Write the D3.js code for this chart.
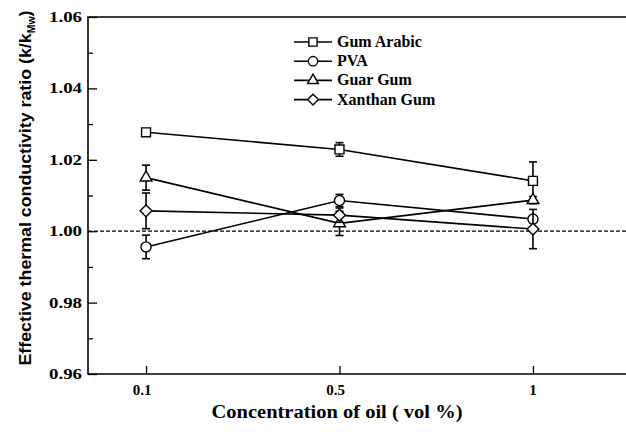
<!DOCTYPE html>
<html>
<head>
<meta charset="utf-8">
<script src="https://cdn.jsdelivr.net/npm/d3@7"></script>
<style>
  body { margin: 0; background: #fff; }
  svg { display: block; }
</style>
</head>
<body>
<script>
// data
var concentrations = ["0.1", "0.5", "1"];
var seriesNames = ["Gum Arabic", "PVA", "Guar Gum", "Xanthan Gum"];
var gumArabic = [1.0277, 1.0229, 1.0141];
var gumArabicErr = [0.0004, 0.0019, 0.0053];
var pva = [0.9956, 1.0086, 1.0034];
var pvaErr = [0.0033, 0.0017, 0.0008];
var guarGum = [1.0150, 1.0022, 1.0087];
var guarGumErr = [0.0035, 0.0034, 0.0010];
var xanthanGum = [1.0057, 1.0045, 1.0006];
var xanthanGumErr = [0.0050, 0.0020, 0.0055];
var yTicks = [0.96, 0.98, 1.00, 1.02, 1.04, 1.06];

var width = 626, height = 432;
var plotLeft = 88, plotTop = 17, plotBottom = 374;

var svg = d3.select("body").append("svg")
	.attr("width", width)
	.attr("height", height);

var x = d3.scalePoint()
	.domain(concentrations)
	.range([plotLeft, 591])
	.padding(0.3);

var y = d3.scaleLinear()
	.domain([0.96, 1.06])
	.range([plotBottom, plotTop]);

var serif = "'Liberation Serif', 'Times New Roman', serif";
var sans = "'Liberation Sans', Arial, sans-serif";

// frame (right side runs off the picture)
svg.append("path")
	.attr("d", "M" + (width + 5) + "," + plotTop + "H" + plotLeft + "V" + plotBottom + "H" + (width + 5))
	.attr("fill", "none")
	.attr("stroke", "#000")
	.attr("stroke-width", 1.6);

// y axis ticks, pointing inward
var yAxis = d3.axisRight(y)
	.tickValues(d3.range(0.96, 1.0601, 0.01))
	.tickSize(0)
	.tickFormat("");
var yg = svg.append("g").attr("transform", "translate(" + plotLeft + ",0)").call(yAxis);
yg.select(".domain").remove();
yg.selectAll(".tick line")
	.attr("x2", function (d, i) { return i % 2 == 0 ? 9 : 5; })
	.attr("stroke-width", 1.3);

svg.selectAll(".ylab")
	.data(yTicks)
	.enter().append("text")
	.attr("x", 82)
	.attr("y", function (d) { return y(d) + 5; })
	.attr("text-anchor", "end")
	.attr("textLength", 33)
	.attr("lengthAdjust", "spacingAndGlyphs")
	.style("font-family", serif)
	.style("font-weight", "bold")
	.style("font-size", "15px")
	.text(function (d) { return d.toFixed(2); });

// x axis ticks
var xAxis = d3.axisTop(x).tickSize(8).tickFormat("");
var xg = svg.append("g").attr("transform", "translate(0," + plotBottom + ")").call(xAxis);
xg.select(".domain").remove();
xg.selectAll(".tick line").attr("stroke-width", 1.3);

svg.selectAll(".xlab")
	.data(concentrations)
	.enter().append("text")
	.attr("x", function (d) { return x(d) - (d == "1" ? 0 : 4); })
	.attr("y", 395)
	.attr("text-anchor", "middle")
	.style("font-family", serif)
	.style("font-weight", "bold")
	.style("font-size", "15px")
	.text(function (d) { return d; });

// axis titles
svg.append("text")
	.attr("x", 337)
	.attr("y", 418)
	.attr("text-anchor", "middle")
	.attr("textLength", 251)
	.attr("lengthAdjust", "spacingAndGlyphs")
	.style("font-family", serif)
	.style("font-weight", "bold")
	.style("font-size", "18px")
	.text("Concentration of oil ( vol %)");

var yt = svg.append("text")
	.attr("transform", "translate(31,188) rotate(-90)")
	.attr("text-anchor", "middle")
	.attr("textLength", 355)
	.attr("lengthAdjust", "spacingAndGlyphs")
	.style("font-family", sans)
	.style("font-weight", "bold")
	.style("font-size", "17px");
yt.append("tspan").text("Effective thermal conductivity ratio (k/k");
yt.append("tspan").attr("dy", 4).style("font-size", "10px").text("Mw");
yt.append("tspan").attr("dy", -4).text(")");

// reference line at 1.00
svg.append("line")
	.attr("x1", plotLeft)
	.attr("x2", width)
	.attr("y1", y(1))
	.attr("y2", y(1))
	.attr("stroke", "#000")
	.attr("stroke-width", 1.3)
	.attr("stroke-dasharray", "4,2");

// markers: square, circle, triangle, diamond (a square turned 45 degrees)
var symbols = [d3.symbolSquare, d3.symbolCircle, d3.symbolTriangle, d3.symbolSquare];
var symSizes = [80, 80, 60, 70];
var symTurn = [0, 0, 0, 45];

var series = [
	{ name: seriesNames[0], values: gumArabic, err: gumArabicErr },
	{ name: seriesNames[1], values: pva, err: pvaErr },
	{ name: seriesNames[2], values: guarGum, err: guarGumErr },
	{ name: seriesNames[3], values: xanthanGum, err: xanthanGumErr }
];

var line = d3.line()
	.x(function (d) { return x(d.c); })
	.y(function (d) { return y(d.v); });

series.forEach(function (s, si) {
	var pts = concentrations.map(function (c, i) {
		return { c: c, v: s.values[i], e: s.err[i] };
	});

	svg.append("path")
		.datum(pts)
		.attr("d", line)
		.attr("fill", "none")
		.attr("stroke", "#000")
		.attr("stroke-width", 1.6);

	var eb = svg.append("g").selectAll("g")
		.data(pts)
		.enter().append("g");
	eb.append("line")
		.attr("x1", function (d) { return x(d.c); })
		.attr("x2", function (d) { return x(d.c); })
		.attr("y1", function (d) { return y(d.v - d.e); })
		.attr("y2", function (d) { return y(d.v + d.e); })
		.attr("stroke", "#000")
		.attr("stroke-width", 1.6);
	[-1, 1].forEach(function (sign) {
		eb.append("line")
			.attr("x1", function (d) { return x(d.c) - 4; })
			.attr("x2", function (d) { return x(d.c) + 4; })
			.attr("y1", function (d) { return y(d.v + sign * d.e); })
			.attr("y2", function (d) { return y(d.v + sign * d.e); })
			.attr("stroke", "#000")
			.attr("stroke-width", 1.6);
	});

	svg.append("g").selectAll("path")
		.data(pts)
		.enter().append("path")
		.attr("d", d3.symbol().type(symbols[si]).size(symSizes[si]))
		.attr("transform", function (d) {
			return "translate(" + x(d.c) + "," + y(d.v) + ") rotate(" + symTurn[si] + ")";
		})
		.attr("fill", "#fff")
		.attr("stroke", "#000")
		.attr("stroke-width", 1.4);
});

// legend
var legend = svg.append("g").selectAll("g")
	.data(series)
	.enter().append("g")
	.attr("transform", function (d, i) { return "translate(0," + (42 + i * 19.2) + ")"; });
legend.append("line")
	.attr("x1", 294).attr("x2", 332)
	.attr("stroke", "#000").attr("stroke-width", 1.6);
legend.append("path")
	.attr("d", function (d, i) { return d3.symbol().type(symbols[i]).size(symSizes[i] * 0.85)(); })
	.attr("transform", function (d, i) { return "translate(313,0) rotate(" + symTurn[i] + ")"; })
	.attr("fill", "#fff")
	.attr("stroke", "#000")
	.attr("stroke-width", 1.4);
legend.append("text")
	.attr("x", 337)
	.attr("y", 5)
	.style("font-family", serif)
	.style("font-weight", "bold")
	.style("font-size", "16px")
	.text(function (d) { return d.name; });
</script>
</body>
</html>
